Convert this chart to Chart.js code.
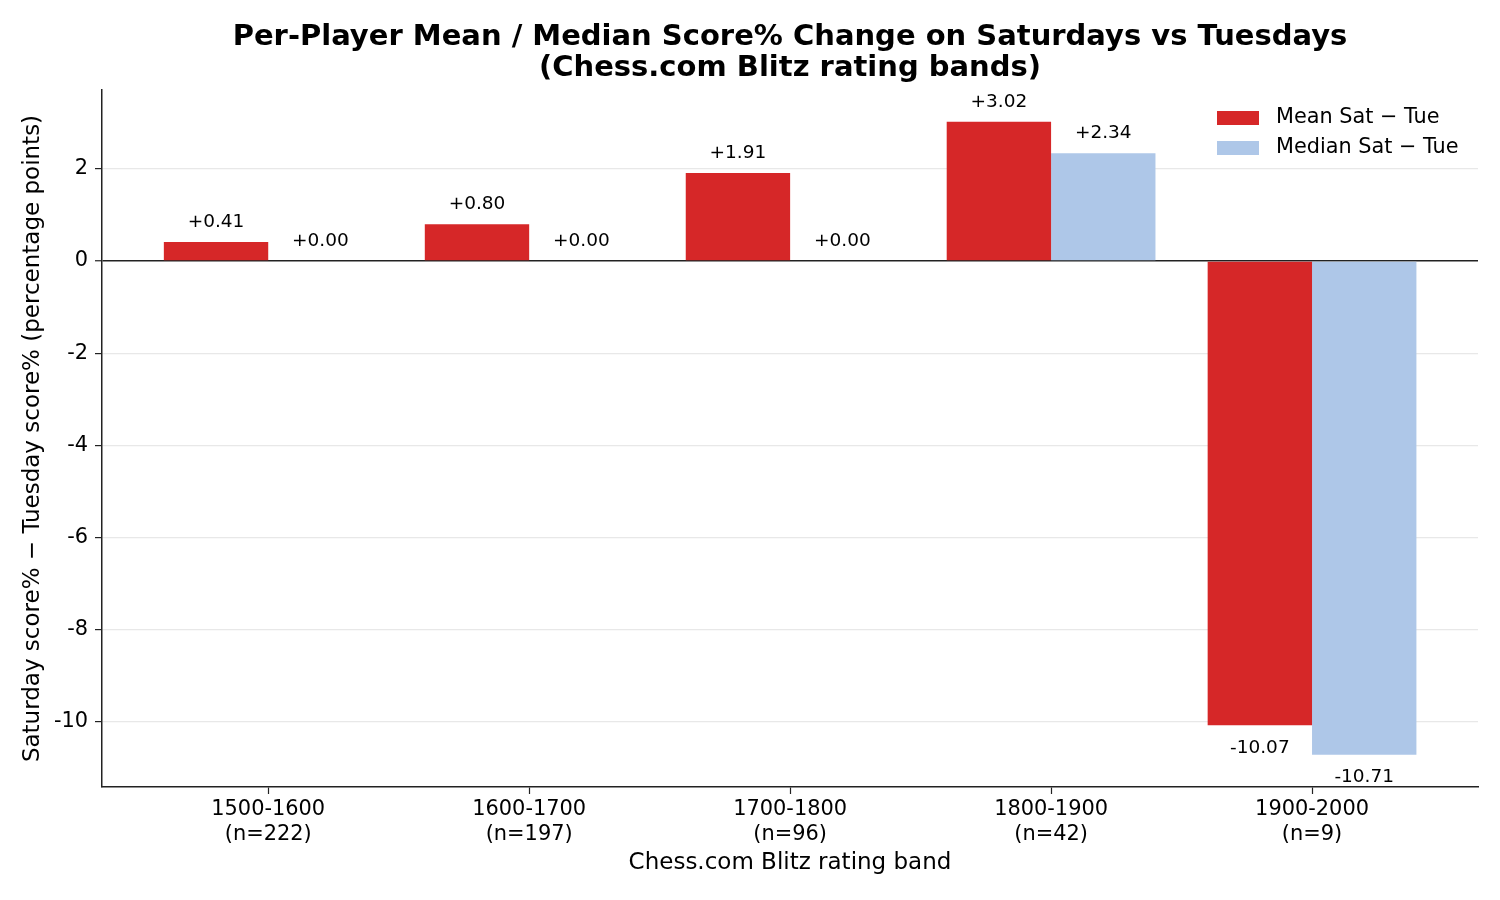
<!DOCTYPE html>
<html>
<head>
<meta charset="utf-8">
<script src="https://cdn.jsdelivr.net/npm/chart.js@4.4.1/dist/chart.umd.min.js"></script>
<style>
  html, body { margin: 0; padding: 0; background: #fff; }
  #wrap { width: 1500px; height: 900px; }
</style>
</head>
<body>
<div id="wrap"><canvas id="myChart" width="1500" height="900"></canvas></div>
<script>
// rating bands and player counts
var bands = ['1500-1600', '1600-1700', '1700-1800', '1800-1900', '1900-2000'];
var counts = [222, 197, 96, 42, 9];

// Saturday minus Tuesday score%, percentage points
var meanDiff = [0.41, 0.80, 1.91, 3.02, -10.07];
var medianDiff = [0.00, 0.00, 0.00, 2.34, -10.71];

var yTicks = [-10, -8, -6, -4, -2, 0, 2];
var xTicks = [0, 1, 2, 3, 4];

var seriesNames = ['Mean Sat \u2212 Tue', 'Median Sat \u2212 Tue'];
var seriesColors = ['#d62728', '#aec7e8'];

var titleLines = [
  'Per-Player Mean / Median Score% Change on Saturdays vs Tuesdays',
  '(Chess.com Blitz rating bands)'
];

Chart.defaults.font.family = '"DejaVu Sans", sans-serif';
Chart.defaults.color = '#000';

function toPoints(arr) {
  return arr.map(function (v, i) { return { x: i, y: v }; });
}

// value labels above / below each bar
var barLabels = {
  id: 'barLabels',
  afterDatasetsDraw: function (chart) {
    var ctx = chart.ctx;
    ctx.save();
    ctx.font = '18.5px "DejaVu Sans"';
    ctx.fillStyle = '#000';
    ctx.textAlign = 'center';
    ctx.textBaseline = 'middle';
    chart.data.datasets.forEach(function (ds, di) {
      chart.getDatasetMeta(di).data.forEach(function (bar, i) {
        var v = ds.data[i].y;
        var txt = (v >= 0 ? '+' : '') + v.toFixed(2);
        var y = v >= 0 ? bar.y - 20 : bar.y + 22.5;
        ctx.fillText(txt, bar.x, y);
      });
    });
    ctx.restore();
  }
};

// title centred on the plot area + legend in the top right corner
var decorations = {
  id: 'decorations',
  afterDraw: function (chart) {
    var ctx = chart.ctx;
    var area = chart.chartArea;
    ctx.save();
    ctx.fillStyle = '#000';
    ctx.textAlign = 'center';
    ctx.textBaseline = 'middle';
    ctx.font = 'bold 29px "DejaVu Sans"';
    var cx = (area.left + area.right) / 2;
    ctx.fillText(titleLines[0], cx, 37);
    ctx.fillText(titleLines[1], cx, 68);

    ctx.font = '20.8px "DejaVu Sans"';
    ctx.textAlign = 'left';
    chart.data.datasets.forEach(function (ds, i) {
      var y = 118 + i * 30;
      ctx.fillStyle = ds.backgroundColor;
      ctx.fillRect(1217, y - 7, 42, 14);
      ctx.fillStyle = '#000';
      ctx.fillText(ds.label, 1276, y);
    });
    ctx.restore();
  }
};

var ctx = document.getElementById('myChart').getContext('2d');
var myChart = new Chart(ctx, {
  type: 'bar',
  data: {
    datasets: [
      { label: seriesNames[0], data: toPoints(meanDiff), backgroundColor: seriesColors[0] },
      { label: seriesNames[1], data: toPoints(medianDiff), backgroundColor: seriesColors[1] }
    ]
  },
  options: {
    responsive: false,
    animation: false,
    devicePixelRatio: 1,
    layout: { padding: { top: 90, right: 22, bottom: 0, left: 0 } },
    datasets: { bar: { categoryPercentage: 0.8, barPercentage: 1.0, borderWidth: 0 } },
    plugins: {
      legend: { display: false },
      title: { display: false },
      tooltip: { enabled: false }
    },
    scales: {
      x: {
        type: 'linear',
        offset: false,
        min: -0.637,
        max: 4.636,
        afterFit: function (s) { s.height = 113; },
        afterBuildTicks: function (s) { s.ticks = xTicks.map(function (v) { return { value: v }; }); },
        grid: { offset: false, drawOnChartArea: false, drawTicks: true, tickLength: 7, tickColor: '#222', tickWidth: 1.2 },
        border: { display: true, color: '#222', width: 1.5 },
        ticks: {
          padding: 3,
          maxRotation: 0,
          autoSkip: false,
          font: { size: 20.9 },
          color: '#000',
          callback: function (value) {
            return [bands[value], '(n=' + counts[value] + ')'];
          }
        },
        title: {
          display: true,
          text: 'Chess.com Blitz rating band',
          font: { size: 23 },
          color: '#000',
          padding: { top: 0, bottom: 23 }
        }
      },
      y: {
        min: -11.41,
        max: 3.71,
        z: 1,
        afterFit: function (s) { s.width = 102; },
        afterBuildTicks: function (s) { s.ticks = yTicks.map(function (v) { return { value: v }; }); },
        grid: {
          color: function (c) { return c.tick && c.tick.value === 0 ? '#222' : 'rgba(128,128,128,0.18)'; },
          lineWidth: function (c) { return c.tick && c.tick.value === 0 ? 1.5 : 1.2; },
          drawTicks: true,
          tickLength: 7,
          tickColor: '#222',
          tickWidth: 1.2
        },
        border: { display: true, color: '#222', width: 1.5 },
        ticks: {
          padding: 7,
          font: { size: 20.9 },
          color: '#000',
          callback: function (value) { return String(value); }
        },
        title: {
          display: true,
          text: 'Saturday score% \u2212 Tuesday score% (percentage points)',
          font: { size: 23 },
          color: '#000',
          padding: { top: 19, bottom: 0 }
        }
      }
    }
  },
  plugins: [barLabels, decorations]
});
</script>
</body>
</html>
